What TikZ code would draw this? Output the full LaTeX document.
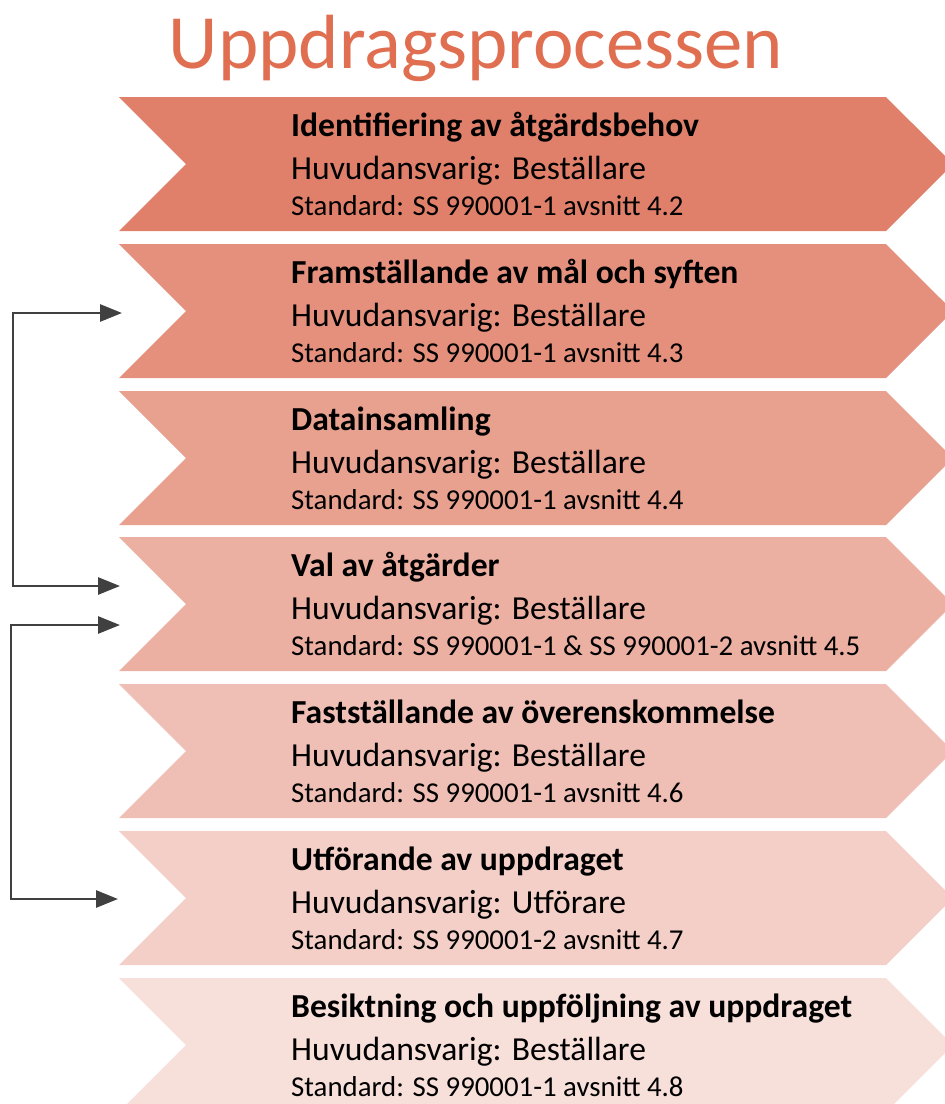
\documentclass[tikz,border=0pt]{standalone}
\usepackage{fontspec}
\setmainfont{Carlito}
\usetikzlibrary{shapes.symbols,arrows.meta}
\definecolor{accent}{HTML}{E0806A}
\definecolor{titlered}{HTML}{E06E50}
\definecolor{linkgray}{HTML}{404040}
\begin{document}
\begin{tikzpicture}[x=1pt,y=-1pt,
  chev/.style={shape=signal,signal from=west,signal to=east,
               signal pointer angle=90,draw=none,inner sep=0pt,
               minimum width=834pt,minimum height=134pt},
  lbl/.style={anchor=base west,align=left,inner sep=0pt,
              font=\fontsize{33.6}{43}\selectfont},
  conn/.style={draw=linkgray,line width=2.8pt,
               {Triangle[length=22pt,width=17pt]}-{Triangle[length=22pt,width=17pt]}}]
  \useasboundingbox (0,0) rectangle (945,1104);
  \clip (0,0) rectangle (945,1104);
  \node[anchor=base,text=titlered,inner sep=0pt,font=\fontsize{76.8}{80}\selectfont]
    (title) at (476,68) {Uppdragsprocessen};
  % chevrons, lighter towards the bottom
  \node[chev,fill=accent]        (c1) at (536,164)  {};
  \node[chev,fill=accent!87.5]   (c2) at (536,311)  {};
  \node[chev,fill=accent!75]     (c3) at (536,458)  {};
  \node[chev,fill=accent!62.5]   (c4) at (536,604)  {};
  \node[chev,fill=accent!50]     (c5) at (536,751)  {};
  \node[chev,fill=accent!37.5]   (c6) at (536,898)  {};
  \node[chev,fill=accent!25]     (c7) at (536,1045) {};
  % texts, placed by the baseline of their last line
  \node[lbl] (t1) at (291,215)
    {\textbf{Identifiering av åtgärdsbehov}\\ Huvudansvarig: Beställare\\[-7pt]
     {\fontsize{28.8}{35}\selectfont Standard: SS 990001-1 avsnitt 4.2}};
  \node[lbl] (t2) at (291,362)
    {\textbf{Framställande av mål och syften}\\ Huvudansvarig: Beställare\\[-7pt]
     {\fontsize{28.8}{35}\selectfont Standard: SS 990001-1 avsnitt 4.3}};
  \node[lbl] (t3) at (291,509)
    {\textbf{Datainsamling}\\ Huvudansvarig: Beställare\\[-7pt]
     {\fontsize{28.8}{35}\selectfont Standard: SS 990001-1 avsnitt 4.4}};
  \node[lbl] (t4) at (291,655)
    {\textbf{Val av åtgärder}\\ Huvudansvarig: Beställare\\[-7pt]
     {\fontsize{28.8}{35}\selectfont Standard: SS 990001-1 \& SS 990001-2 avsnitt 4.5}};
  \node[lbl] (t5) at (291,802)
    {\textbf{Fastställande av överenskommelse}\\ Huvudansvarig: Beställare\\[-7pt]
     {\fontsize{28.8}{35}\selectfont Standard: SS 990001-1 avsnitt 4.6}};
  \node[lbl] (t6) at (291,949)
    {\textbf{Utförande av uppdraget}\\ Huvudansvarig: Utförare\\[-7pt]
     {\fontsize{28.8}{35}\selectfont Standard: SS 990001-2 avsnitt 4.7}};
  \node[lbl] (t7) at (291,1096)
    {\textbf{Besiktning och uppföljning av uppdraget}\\ Huvudansvarig: Beställare\\[-7pt]
     {\fontsize{28.8}{35}\selectfont Standard: SS 990001-1 avsnitt 4.8}};
  % loop-back connectors on the left
  \coordinate (a2)  at (122,313);
  \coordinate (a4)  at (120,586);
  \coordinate (b4)  at (120,625);
  \coordinate (a6)  at (118,899);
  \coordinate (r1)  at (13,450);
  \coordinate (r2)  at (11,760);
  \draw[conn] (a2) -| (r1) |- (a4);
  \draw[conn] (b4) -| (r2) |- (a6);
\end{tikzpicture}
\end{document}
